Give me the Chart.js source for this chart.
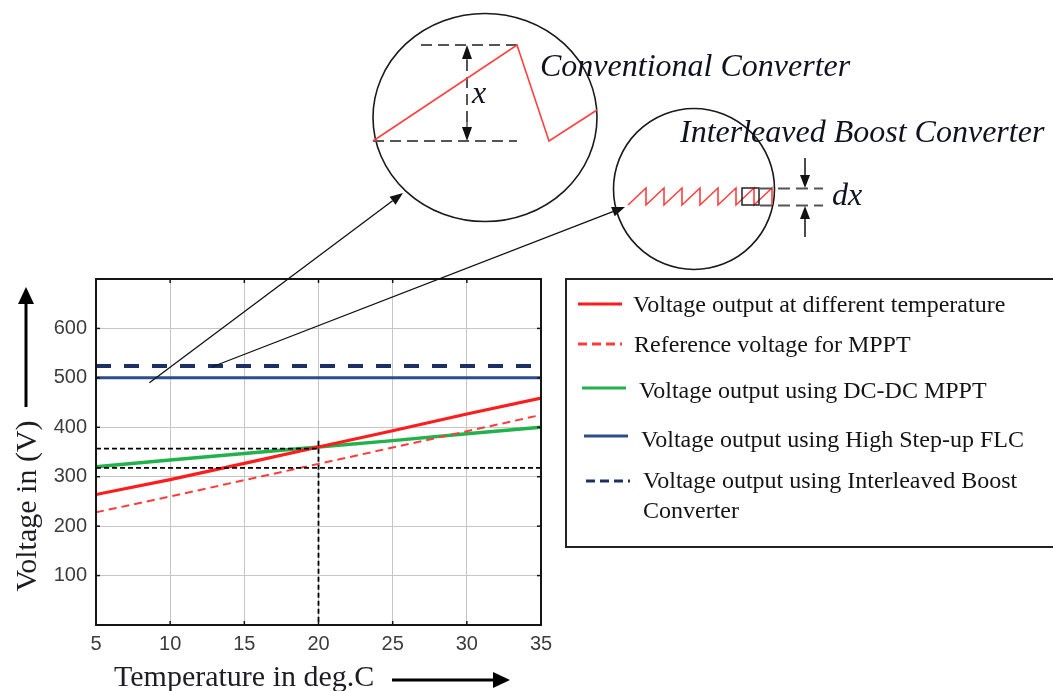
<!DOCTYPE html>
<html>
<head>
<meta charset="utf-8">
<script src="https://cdn.jsdelivr.net/npm/chart.js@4.4.1/dist/chart.umd.min.js"></script>
<style>
	html, body { margin: 0; padding: 0; background: #fff; }
	canvas { display: block; }
</style>
</head>
<body>
<canvas id="temp-voltage-chart" width="1053" height="691"></canvas>
<script>
/*jshint esversion: 6 */

const temperatures = [ 5, 10, 15, 20, 25, 30, 35 ];
const voltageAtTemp = [ 264, 294, 327, 360, 393, 427, 459 ];
const referenceVoltage = [ 228, 260, 293, 326, 359, 392, 425 ];
const dcdcMppt = [ 320, 334, 347, 360, 373, 387, 400 ];
const highStepUpFlc = [ 500, 500, 500, 500, 500, 500, 500 ];
const interleavedBoost = [ 524, 524, 524, 524, 524, 524, 524 ];

const xTicks = [ 5, 10, 15, 20, 25, 30, 35 ];
const yTicks = [ 0, 100, 200, 300, 400, 500, 600, 700 ];

// dashed guide lines around the 20 deg.C operating point
const upperGuideTemps = [ 5, 20 ];
const upperGuideVolts = [ 357, 357 ];
const lowerGuideTemps = [ 5, 35 ];
const lowerGuideVolts = [ 318, 318 ];
const crossTemps = [ 20, 20 ];
const crossVolts = [ 373, 0 ];

// where the zoom pointers leave the plot (deg.C, V)
const pointerStarts = [ [ 8.6, 490 ], [ 12.8, 522 ] ];

const SERIF = "'Liberation Serif', 'Times New Roman', serif";
const SANS = "'Liberation Sans', Arial, sans-serif";

const toPoints = ( xs, ys ) => xs.map( ( x, i ) => ( { x: x, y: ys[ i ] } ) );

const lineSet = ( label, xs, ys, color, width, dash, order ) => ( {
	label: label,
	data: toPoints( xs, ys ),
	borderColor: color,
	backgroundColor: color,
	borderWidth: width,
	borderDash: dash || [],
	pointRadius: 0,
	tension: 0,
	fill: false,
	order: order,
} );

const datasets = [
	lineSet( 'Voltage output at different temperature', temperatures, voltageAtTemp, '#ff1c1c', 3.2, null, 2 ),
	lineSet( 'Reference voltage for MPPT', temperatures, referenceVoltage, '#ff3b3b', 2, [ 8, 5 ], 3 ),
	lineSet( 'Voltage output using DC-DC MPPT', temperatures, dcdcMppt, '#22b24c', 3.5, null, 4 ),
	lineSet( 'Voltage output using High Step-up FLC', temperatures, highStepUpFlc, '#2d4d8c', 3, null, 4 ),
	lineSet( [ 'Voltage output using Interleaved Boost', 'Converter' ], temperatures, interleavedBoost, '#1c3066', 4, [ 15, 13 ], 4 ),
	lineSet( '', upperGuideTemps, upperGuideVolts, '#000', 1.8, [ 5, 3 ], 0 ),
	lineSet( '', lowerGuideTemps, lowerGuideVolts, '#000', 1.8, [ 5, 3 ], 0 ),
	lineSet( '', crossTemps, crossVolts, '#000', 1.8, [ 5, 3 ], 0 ),
];

// legend rows: line start, text start, line y, text baseline
const legendRows = [
	{ x: 578, tx: 633, y: 304, base: 312 },
	{ x: 578, tx: 634, y: 344, base: 352 },
	{ x: 582, tx: 639, y: 388, base: 398 },
	{ x: 584, tx: 641, y: 436, base: 447 },
	{ x: 586, tx: 643, y: 481, base: 488 },
];

const arrow = ( ctx, x1, y1, x2, y2, head, half, width ) => {
	const ang = Math.atan2( y2 - y1, x2 - x1 );
	const bx = x2 - head * Math.cos( ang );
	const by = y2 - head * Math.sin( ang );
	ctx.lineWidth = width;
	ctx.beginPath();
	ctx.moveTo( x1, y1 );
	ctx.lineTo( bx, by );
	ctx.stroke();
	ctx.beginPath();
	ctx.moveTo( x2, y2 );
	ctx.lineTo( bx + half * Math.sin( ang ), by - half * Math.cos( ang ) );
	ctx.lineTo( bx - half * Math.sin( ang ), by + half * Math.cos( ang ) );
	ctx.closePath();
	ctx.fill();
};

const segment = ( ctx, x1, y1, x2, y2 ) => {
	ctx.beginPath();
	ctx.moveTo( x1, y1 );
	ctx.lineTo( x2, y2 );
	ctx.stroke();
};

const overlay = {
	id: 'overlay',

	beforeDraw: ( chart ) => {
		const ctx = chart.ctx;
		ctx.save();
		ctx.fillStyle = '#fff';
		ctx.fillRect( 0, 0, chart.width, chart.height );
		ctx.restore();
	},

	afterDraw: ( chart ) => {
		const ctx = chart.ctx;
		const area = chart.chartArea;
		const xs = chart.scales.x;
		const ys = chart.scales.y;

		ctx.save();

		// plot frame with small inward ticks
		ctx.strokeStyle = '#151515';
		ctx.lineWidth = 2;
		ctx.strokeRect( area.left, area.top, area.right - area.left, area.bottom - area.top );
		ctx.lineWidth = 1.5;
		xTicks.forEach( ( t ) => {
			const px = xs.getPixelForValue( t );
			segment( ctx, px, area.bottom, px, area.bottom - 4 );
			segment( ctx, px, area.top, px, area.top + 4 );
		} );
		yTicks.forEach( ( t ) => {
			const py = ys.getPixelForValue( t );
			segment( ctx, area.left, py, area.left + 4, py );
			segment( ctx, area.right, py, area.right - 4, py );
		} );

		// axis titles with their arrows
		ctx.fillStyle = '#1d1d24';
		ctx.strokeStyle = '#000';
		ctx.font = '30px ' + SERIF;
		ctx.textBaseline = 'alphabetic';
		ctx.textAlign = 'left';
		ctx.fillText( 'Temperature in deg.C', 114, 686 );
		ctx.save();
		ctx.translate( 36, 506 );
		ctx.rotate( -Math.PI / 2 );
		ctx.textAlign = 'center';
		ctx.fillText( 'Voltage in (V)', 0, 0 );
		ctx.restore();
		ctx.fillStyle = '#000';
		arrow( ctx, 392, 680, 510, 680, 17, 8, 3 );
		arrow( ctx, 26, 407, 26, 287, 17, 8, 3 );

		// pointers from the plot to the two zoom circles
		ctx.strokeStyle = '#111';
		ctx.fillStyle = '#111';
		const ends = [ [ 403, 193 ], [ 625, 207 ] ];
		pointerStarts.forEach( ( p, i ) => {
			arrow( ctx, xs.getPixelForValue( p[ 0 ] ), ys.getPixelForValue( p[ 1 ] ), ends[ i ][ 0 ], ends[ i ][ 1 ], 13, 5, 1.3 );
		} );

		// zoom circle: conventional converter
		ctx.lineWidth = 1.6;
		ctx.strokeStyle = '#1a1a1a';
		ctx.beginPath();
		ctx.ellipse( 485, 117.5, 112, 104, 0, 0, Math.PI * 2 );
		ctx.stroke();
		ctx.strokeStyle = '#555';
		ctx.lineWidth = 2;
		ctx.setLineDash( [ 11, 6 ] );
		segment( ctx, 421, 45, 517, 45 );
		segment( ctx, 373, 141, 517, 141 );
		segment( ctx, 467, 60, 467, 126 );
		ctx.setLineDash( [] );
		ctx.fillStyle = '#111';
		arrow( ctx, 467, 70, 467, 45, 14, 5, 1.5 );
		arrow( ctx, 467, 116, 467, 141, 14, 5, 1.5 );
		ctx.strokeStyle = '#ff4040';
		ctx.lineWidth = 1.6;
		ctx.beginPath();
		ctx.moveTo( 373, 141 );
		ctx.lineTo( 517, 45 );
		ctx.lineTo( 549, 141 );
		ctx.lineTo( 597, 110 );
		ctx.stroke();

		// zoom circle: interleaved boost converter
		ctx.strokeStyle = '#1a1a1a';
		ctx.beginPath();
		ctx.arc( 694, 189, 80.5, 0, Math.PI * 2 );
		ctx.stroke();
		ctx.strokeStyle = '#ff4040';
		ctx.beginPath();
		ctx.moveTo( 628, 205 );
		for ( let k = 1; k <= 8; k++ ) {
			ctx.lineTo( 628 + k * 18, 188 );
			ctx.lineTo( 628 + k * 18, 205 );
		}
		ctx.stroke();
		ctx.strokeStyle = '#222';
		ctx.lineWidth = 1.5;
		ctx.strokeRect( 742, 188, 17, 17 );
		ctx.strokeStyle = '#555';
		ctx.lineWidth = 2;
		ctx.setLineDash( [ 12, 6 ] );
		segment( ctx, 760, 188.5, 823, 188.5 );
		segment( ctx, 760, 205.5, 823, 205.5 );
		ctx.setLineDash( [] );
		ctx.strokeStyle = '#111';
		arrow( ctx, 805, 158, 805, 188, 13, 5, 1.5 );
		arrow( ctx, 805, 237, 805, 206, 13, 5, 1.5 );

		// italic captions
		ctx.fillStyle = '#10131f';
		ctx.font = 'italic 32px ' + SERIF;
		ctx.textAlign = 'left';
		ctx.fillText( 'Conventional Converter', 540, 76 );
		ctx.fillText( 'Interleaved Boost Converter', 680, 142 );
		ctx.fillText( 'x', 472, 103 );
		ctx.fillText( 'dx', 832, 205 );

		// legend box
		ctx.strokeStyle = '#222';
		ctx.lineWidth = 2;
		ctx.strokeRect( 566, 279, 500, 268 );
		ctx.font = '24px ' + SERIF;
		ctx.fillStyle = '#141414';
		const entries = chart.data.datasets.filter( ( d ) => d.label !== '' );
		entries.forEach( ( d, i ) => {
			const row = legendRows[ i ];
			ctx.strokeStyle = d.borderColor;
			ctx.lineWidth = 3;
			ctx.setLineDash( d.borderDash.length ? [ 9, 5 ] : [] );
			segment( ctx, row.x, row.y, row.x + 44, row.y );
			ctx.setLineDash( [] );
			const lines = Array.isArray( d.label ) ? d.label : [ d.label ];
			lines.forEach( ( txt, j ) => {
				ctx.fillText( txt, row.tx, row.base + j * 30 );
			} );
		} );

		ctx.restore();
	}
};

window.onload = () => {
	const ctx = document.getElementById( 'temp-voltage-chart' ).getContext( '2d' );
	const tickFont = { family: SANS, size: 20 };

	new Chart( ctx, {
		type: 'line',
		data: { datasets: datasets },
		options: {
			responsive: false,
			animation: false,
			devicePixelRatio: 1,
			layout: { padding: { left: 0, right: 512, top: 279, bottom: 0 } },
			scales: {
				x: {
					type: 'linear',
					min: 5,
					max: 35,
					afterBuildTicks: ( s ) => { s.ticks = xTicks.map( ( v ) => ( { value: v } ) ); },
					afterFit: ( s ) => { s.height = 66; },
					ticks: { font: tickFont, color: '#3c3c3c', padding: 7, autoSkip: false, maxRotation: 0 },
					grid: { color: '#c6c6c6', lineWidth: 1, drawTicks: false },
					border: { display: false },
				},
				y: {
					min: 0,
					max: 700,
					afterBuildTicks: ( s ) => { s.ticks = yTicks.map( ( v ) => ( { value: v } ) ); },
					afterFit: ( s ) => { s.width = 96; },
					ticks: {
						font: tickFont,
						color: '#3c3c3c',
						padding: 9,
						callback: ( v ) => ( v === 0 || v === 700 ) ? '' : v,
					},
					grid: { color: '#c6c6c6', lineWidth: 1, drawTicks: false },
					border: { display: false },
				},
			},
			plugins: {
				legend: { display: false },
				tooltip: { enabled: false },
			},
		},
		plugins: [ overlay ],
	} );
};
</script>
</body>
</html>
